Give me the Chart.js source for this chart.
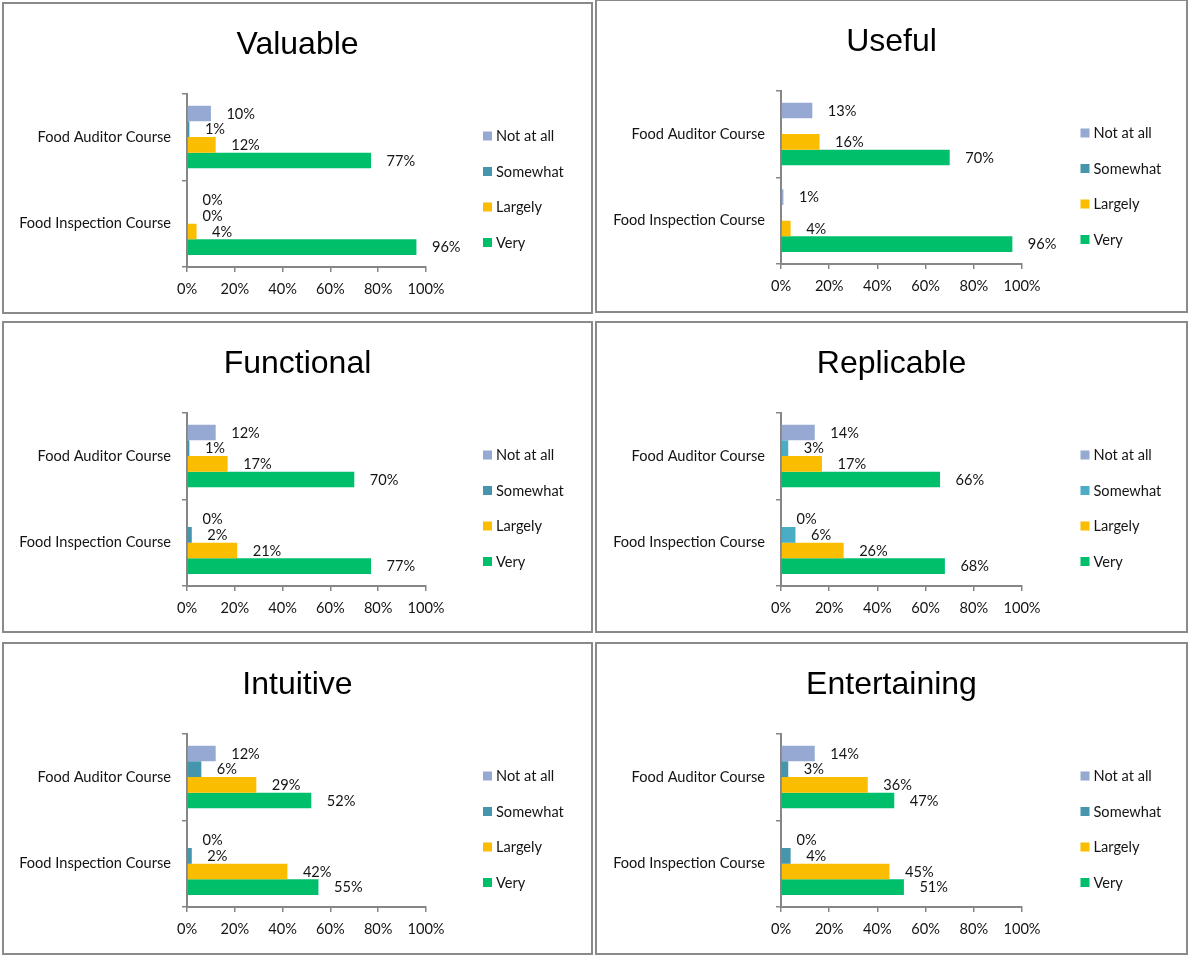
<!DOCTYPE html>
<html>
<head>
<meta charset="utf-8">
<title>Course ratings</title>
<script src="https://cdn.jsdelivr.net/npm/chart.js@4.4.1/dist/chart.umd.min.js"></script>
<style>
  html, body { margin: 0; padding: 0; background: #ffffff; }
  body { width: 1190px; height: 956px; position: relative; overflow: hidden; }
  .panel { position: absolute; box-sizing: border-box; border: 2px solid #8a8a8a; background: #ffffff; }
  .panel canvas { display: block; }
</style>
</head>
<body>
<div class="panel" id="panel0"><canvas></canvas></div>
<div class="panel" id="panel1"><canvas></canvas></div>
<div class="panel" id="panel2"><canvas></canvas></div>
<div class="panel" id="panel3"><canvas></canvas></div>
<div class="panel" id="panel4"><canvas></canvas></div>
<div class="panel" id="panel5"><canvas></canvas></div>
<script>
// ---- data ----
const categories = ['Food Auditor Course', 'Food Inspection Course'];
const levels = ['Not at all', 'Somewhat', 'Largely', 'Very'];
const titles = ['Valuable', 'Useful', 'Functional', 'Replicable', 'Intuitive', 'Entertaining'];

// one row per level (Not at all, Somewhat, Largely, Very), one value per course, in %
const valuable     = [[10, 0], [1, 0],        [12, 4],  [77, 96]];
const useful       = [[13, 1], [null, null],  [16, 4],  [70, 96]];
const functional   = [[12, 0], [1, 2],        [17, 21], [70, 77]];
const replicable   = [[14, 0], [3, 6],        [17, 26], [66, 68]];
const intuitive    = [[12, 0], [6, 2],        [29, 42], [52, 55]];
const entertaining = [[14, 0], [3, 4],        [36, 45], [47, 51]];

const xTicks = [0, 20, 40, 60, 80, 100];

// ---- styling ----
const panelValues = [valuable, useful, functional, replicable, intuitive, entertaining];
const tealDark = '#4596ad';
const tealLight = '#4bacc6';
const palettes = [
  ['#95a9d2', tealDark,  '#fbbd00', '#00bf6b'],
  ['#95a9d2', tealDark,  '#fbbd00', '#00bf6b'],
  ['#95a9d2', tealDark,  '#fbbd00', '#00bf6b'],
  ['#95a9d2', tealLight, '#fbbd00', '#00bf6b'],
  ['#95a9d2', tealDark,  '#fbbd00', '#00bf6b'],
  ['#95a9d2', tealDark,  '#fbbd00', '#00bf6b']
];

const boxes = [
  { left: 2,   top: 2,   width: 591, height: 312 },
  { left: 595, top: -1,  width: 593, height: 314 },
  { left: 2,   top: 321, width: 591, height: 312 },
  { left: 595, top: 321, width: 593, height: 312 },
  { left: 2,   top: 642, width: 591, height: 313 },
  { left: 595, top: 642, width: 593, height: 313 }
];

const BODY_FONT = 'Lato, "Open Sans", sans-serif';
const BODY_SIZE = 14.6;
const TITLE_FONT = '"Liberation Sans", Arial, sans-serif';
const AXIS_GRAY = '#868686';
const TEXT = '#141414';

// Title, legend and end-of-bar value labels
const panelDecor = {
  id: 'panelDecor',
  afterDatasetsDraw(chart, args, opts) {
    const ctx = chart.ctx;
    ctx.save();
    ctx.font = BODY_SIZE + 'px ' + BODY_FONT;
    ctx.fillStyle = TEXT;
    ctx.textAlign = 'left';
    ctx.textBaseline = 'middle';
    chart.data.datasets.forEach((ds, di) => {
      const meta = chart.getDatasetMeta(di);
      meta.data.forEach((bar, i) => {
        const v = ds.data[i];
        if (v === null || v === undefined) return;
        ctx.fillText(v + '%', bar.x + 15.5, bar.y + 0.5);
      });
    });
    ctx.restore();
  },
  afterDraw(chart, args, opts) {
    const ctx = chart.ctx;
    ctx.save();
    // title
    ctx.font = '32px ' + TITLE_FONT;
    ctx.fillStyle = '#000000';
    ctx.textAlign = 'center';
    ctx.textBaseline = 'alphabetic';
    ctx.fillText(opts.title, chart.width / 2, opts.titleBaseline);
    // legend
    ctx.font = BODY_SIZE + 'px ' + BODY_FONT;
    ctx.textAlign = 'left';
    ctx.textBaseline = 'middle';
    chart.data.datasets.forEach((ds, i) => {
      const cy = opts.legendTop + i * opts.legendStep;
      ctx.fillStyle = ds.backgroundColor;
      ctx.fillRect(opts.legendX, cy - 4.5, 9, 9);
      ctx.fillStyle = TEXT;
      ctx.fillText(ds.label, opts.legendX + 13, cy + 0.5);
    });
    ctx.restore();
  }
};

boxes.forEach((b, idx) => {
  const div = document.getElementById('panel' + idx);
  div.style.left = b.left + 'px';
  div.style.top = b.top + 'px';
  div.style.width = b.width + 'px';
  div.style.height = b.height + 'px';
  const canvas = div.querySelector('canvas');
  const cw = b.width - 4, ch = b.height - 4;
  canvas.width = cw;
  canvas.height = ch;

  const rightCol = b.left > 300;
  const x0 = rightCol ? 184 : 183;
  const x100 = rightCol ? 425 : 422;
  const plotTop = 89.7;
  const plotBottom = 263;

  const values = panelValues[idx];
  const datasets = levels.map((lv, i) => ({
    label: lv,
    data: values[i],
    backgroundColor: palettes[idx][i],
    borderWidth: 0,
    categoryPercentage: 0.723,
    barPercentage: 1.0
  }));

  new Chart(canvas, {
    type: 'bar',
    data: { labels: categories, datasets },
    options: {
      indexAxis: 'y',
      responsive: false,
      animation: false,
      devicePixelRatio: 1,
      layout: { padding: { top: plotTop, right: cw - x100, bottom: 0, left: 0 } },
      plugins: {
        legend: { display: false },
        title: { display: false },
        tooltip: { enabled: false },
        panelDecor: {
          title: titles[idx],
          titleBaseline: 49.5,
          legendX: rightCol ? 483.5 : 479,
          legendTop: 132,
          legendStep: 35.5
        }
      },
      scales: {
        x: {
          type: 'linear',
          min: xTicks[0],
          max: xTicks[xTicks.length - 1],
          afterBuildTicks: (scale) => { scale.ticks = xTicks.map(v => ({ value: v })); },
          ticks: {
            callback: (v) => v + '%',
            font: { family: BODY_FONT, size: BODY_SIZE },
            color: TEXT,
            padding: 8.5,
            maxRotation: 0
          },
          grid: { display: true, drawOnChartArea: false, drawTicks: true, tickLength: 5, color: AXIS_GRAY, lineWidth: 1.5 },
          border: { display: true, color: AXIS_GRAY, width: 2 },
          afterFit: (scale) => { scale.height = ch - plotBottom; }
        },
        y: {
          type: 'category',
          offset: true,
          ticks: {
            font: { family: BODY_FONT, size: BODY_SIZE },
            color: TEXT,
            padding: 11
          },
          grid: { display: true, offset: true, drawOnChartArea: false, drawTicks: true, tickLength: 5, color: AXIS_GRAY, lineWidth: 1.5 },
          border: { display: true, color: AXIS_GRAY, width: 2 },
          afterFit: (scale) => { scale.width = x0; }
        }
      }
    },
    plugins: [panelDecor]
  });
});
</script>
</body>
</html>
